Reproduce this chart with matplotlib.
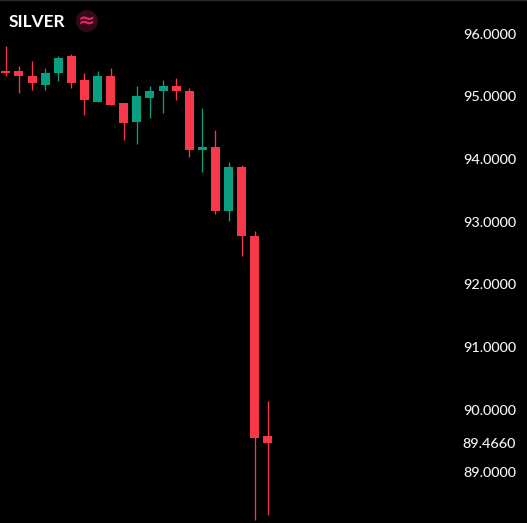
import matplotlib
matplotlib.use("Agg")
import matplotlib.pyplot as plt
from matplotlib.patches import Circle
from matplotlib.transforms import ScaledTranslation

title = "SILVER"
icon = "≈"
opens = [95.39, 95.38, 95.31, 95.17, 95.36, 95.62, 95.25, 94.90, 95.30, 94.87, 94.58,
         94.96, 95.06, 95.14, 95.07, 94.12, 94.18, 93.15, 93.86, 92.76, 89.56]
closes = [95.35, 95.31, 95.20, 95.36, 95.59, 95.20, 94.93, 95.31, 94.85, 94.56, 94.98,
          95.07, 95.14, 95.06, 94.13, 94.18, 93.15, 93.86, 92.76, 89.54, 89.45]
highs = [95.79, 95.46, 95.55, 95.43, 95.63, 95.65, 95.36, 95.39, 95.43, 94.88, 95.14,
         95.14, 95.25, 95.28, 95.11, 94.80, 94.45, 93.93, 93.88, 92.83, 90.13]
lows = [95.30, 95.04, 95.09, 95.09, 95.23, 95.11, 94.69, 94.90, 94.84, 94.29, 94.23,
        94.63, 94.72, 94.93, 94.01, 93.78, 93.10, 92.99, 92.43, 88.23, 88.30]
tick_values = [96, 95, 94, 93, 92, 91, 90, 89.466, 89]
tick_labels = ["96.0000", "95.0000", "94.0000", "93.0000", "92.0000", "91.0000",
               "90.0000", "89.4660", "89.0000"]

RED = "#F7374A"
GREEN = "#0A9F80"

fig = plt.figure(figsize=(5.27, 5.23), dpi=100, facecolor="black")
ax = fig.add_axes([0, 0, 1, 1], facecolor="black")

for i, (o, c, h, l) in enumerate(zip(opens, closes, highs, lows)):
    col = GREEN if c >= o else RED
    ax.vlines(i, l, h, color=col, linewidth=0.95, zorder=2)
    ax.bar(i, abs(c - o), bottom=min(o, c), width=0.687, color=col, linewidth=0, zorder=3)

ax.set_xlim(-0.45, 39.78)
ax.set_ylim(88.178, 96.519)
ax.set_xticks([])
ax.yaxis.tick_right()
ax.set_yticks(tick_values)
ax.set_yticklabels(tick_labels, family="Lato", fontsize=10.4, color="#F5F5F5",
                   ha="right", fontweight="medium", va="center")
ax.tick_params(axis="y", length=0, pad=-8)
shift = ScaledTranslation(0, -2 / 100, fig.dpi_scale_trans)
for label in ax.get_yticklabels():
    label.set_transform(label.get_transform() + shift)
for name, spine in ax.spines.items():
    spine.set_visible(False)
ax.spines["top"].set_visible(True)
ax.spines["top"].set_color("#2A2A2A")
ax.spines["top"].set_linewidth(1.0)


def px(x, y):
    return x / 527, 1 - y / 523


fig.text(*px(9, 22), title, color="white", family="Lato", fontsize=12.4,
         fontweight="bold", ha="left", va="center")
fig.add_artist(Circle((87, 523 - 21), 11, transform=None, facecolor="#330A1A", edgecolor="none"))
fig.text(*px(87, 21), icon, color="#E0245E", family="DejaVu Sans", fontsize=15,
         fontweight="bold", ha="center", va="center")

fig.savefig("out.png", dpi=100, facecolor="black")
